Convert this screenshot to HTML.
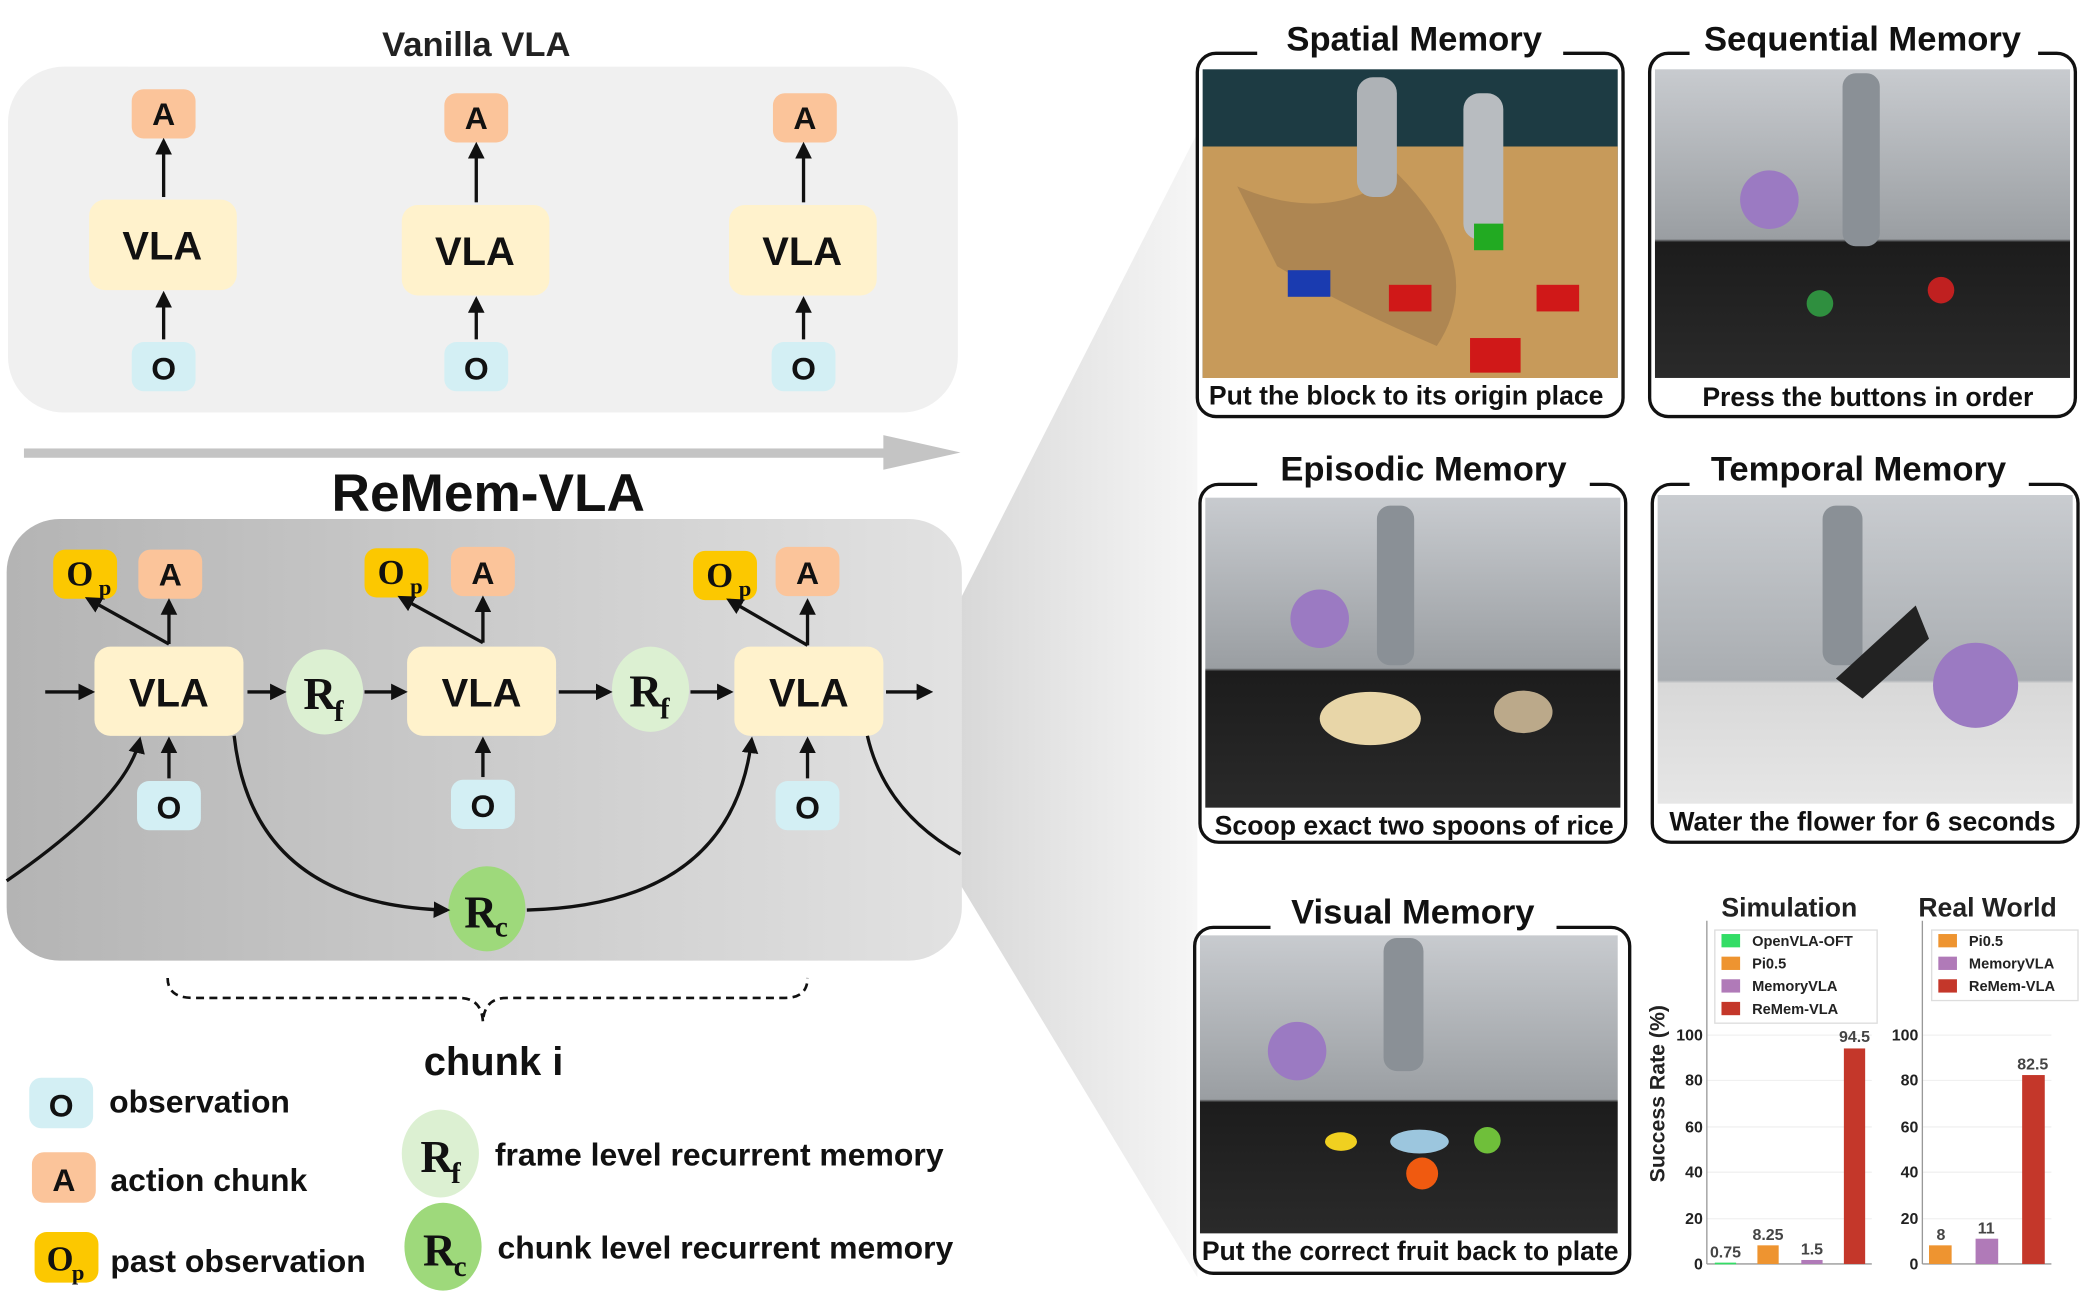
<!DOCTYPE html>
<html><head><meta charset="utf-8"><style>
html,body{margin:0;padding:0;background:#fff;}
svg{display:block;}
text{font-family:"Liberation Sans",sans-serif;}
.b{font-weight:bold;}
text.ser{font-family:"Liberation Serif",serif;font-weight:bold;}
</style></head><body>
<svg width="2086" height="1304" viewBox="0 0 1568 980" xmlns="http://www.w3.org/2000/svg">
<defs>
<marker id="ar" viewBox="0 0 10 10" refX="8" refY="5" markerWidth="5" markerHeight="5" orient="auto-start-reverse"><path d="M0,0L10,5L0,10z" fill="#111"/></marker>
<linearGradient id="pg" x1="0" y1="0" x2="1" y2="0"><stop offset="0" stop-color="#b4b4b4"/><stop offset="1" stop-color="#e2e2e2"/></linearGradient>
<linearGradient id="fg" x1="0" y1="0" x2="1" y2="0"><stop offset="0" stop-color="#d8d8d8"/><stop offset="1" stop-color="#f6f6f6"/></linearGradient>
<linearGradient id="room" x1="0" y1="0" x2="0" y2="1"><stop offset="0" stop-color="#c8cbcf"/><stop offset="0.55" stop-color="#9a9ea2"/><stop offset="0.56" stop-color="#1c1c1c"/><stop offset="1" stop-color="#2a2a2a"/></linearGradient>
<linearGradient id="room2" x1="0" y1="0" x2="0" y2="1"><stop offset="0" stop-color="#c9ccd0"/><stop offset="0.6" stop-color="#a9adb1"/><stop offset="0.61" stop-color="#d8d8d8"/><stop offset="1" stop-color="#e6e6e6"/></linearGradient>
</defs>

<polygon points="722,450 900,100 900,960 722,665" fill="url(#fg)"/>

<text x="358" y="42" font-size="26" class="b" text-anchor="middle" fill="#222">Vanilla VLA</text>
<rect x="6" y="50" width="714" height="260" rx="42" fill="#f0f0f0"/>
<g font-size="30" class="b" text-anchor="middle" fill="#111">
<rect x="67" y="150" width="111" height="68" rx="12" fill="#fff2cc"/><text x="122" y="195">VLA</text>
<rect x="302" y="154" width="111" height="68" rx="12" fill="#fff2cc"/><text x="357" y="199">VLA</text>
<rect x="548" y="154" width="111" height="68" rx="12" fill="#fff2cc"/><text x="603" y="199">VLA</text>
</g>
<g font-size="24" class="b" text-anchor="middle" fill="#111">
<rect x="99" y="67" width="48" height="37" rx="9" fill="#fbc49a"/><text x="123" y="94">A</text>
<rect x="334" y="70" width="48" height="37" rx="9" fill="#fbc49a"/><text x="358" y="97">A</text>
<rect x="581" y="70" width="48" height="37" rx="9" fill="#fbc49a"/><text x="605" y="97">A</text>
<rect x="99" y="257" width="48" height="37" rx="9" fill="#d3eff4"/><text x="123" y="285">O</text>
<rect x="334" y="257" width="48" height="37" rx="9" fill="#d3eff4"/><text x="358" y="285">O</text>
<rect x="580" y="257" width="48" height="37" rx="9" fill="#d3eff4"/><text x="604" y="285">O</text>
</g>
<g stroke="#111" stroke-width="2.5" marker-end="url(#ar)">
<line x1="123" y1="148" x2="123" y2="106"/><line x1="358" y1="152" x2="358" y2="109"/><line x1="604" y1="152" x2="604" y2="109"/>
<line x1="123" y1="255" x2="123" y2="221"/><line x1="358" y1="255" x2="358" y2="225"/><line x1="604" y1="255" x2="604" y2="225"/>
</g>
<rect x="18" y="337" width="650" height="7" fill="#c4c4c4"/>
<polygon points="664,327 722,340 664,353" fill="#c4c4c4"/>

<text x="367" y="384" font-size="40" class="b" text-anchor="middle" fill="#111">ReMem-VLA</text>
<rect x="5" y="390" width="718" height="332" rx="40" fill="url(#pg)"/>
<g font-size="30" class="b" text-anchor="middle" fill="#111">
<rect x="71" y="486" width="112" height="67" rx="12" fill="#fff2cc"/><text x="127" y="531">VLA</text>
<rect x="306" y="486" width="112" height="67" rx="12" fill="#fff2cc"/><text x="362" y="531">VLA</text>
<rect x="552" y="486" width="112" height="67" rx="12" fill="#fff2cc"/><text x="608" y="531">VLA</text>
</g>
<g font-size="24" class="b" text-anchor="middle" fill="#111">
<rect x="40" y="413" width="48" height="37" rx="9" fill="#fcc800"/><text x="60" y="440" class="ser" font-size="26">O</text><text x="79" y="447" class="ser" font-size="17">p</text>
<rect x="104" y="413" width="48" height="37" rx="9" fill="#fbc49a"/><text x="128" y="440">A</text>
<rect x="274" y="412" width="48" height="37" rx="9" fill="#fcc800"/><text x="294" y="439" class="ser" font-size="26">O</text><text x="313" y="446" class="ser" font-size="17">p</text>
<rect x="339" y="411" width="48" height="37" rx="9" fill="#fbc49a"/><text x="363" y="439">A</text>
<rect x="521" y="414" width="48" height="37" rx="9" fill="#fcc800"/><text x="541" y="441" class="ser" font-size="26">O</text><text x="560" y="448" class="ser" font-size="17">p</text>
<rect x="583" y="411" width="48" height="37" rx="9" fill="#fbc49a"/><text x="607" y="439">A</text>
<rect x="103" y="587" width="48" height="37" rx="9" fill="#d3eff4"/><text x="127" y="615">O</text>
<rect x="339" y="586" width="48" height="37" rx="9" fill="#d3eff4"/><text x="363" y="614">O</text>
<rect x="583" y="587" width="48" height="37" rx="9" fill="#d3eff4"/><text x="607" y="615">O</text>
</g>
<ellipse cx="244" cy="520" rx="29" ry="32" fill="#dcf0d2"/>
<ellipse cx="489" cy="518" rx="29" ry="32" fill="#dcf0d2"/>
<ellipse cx="366" cy="683" rx="29" ry="32" fill="#9ed97b"/>
<g fill="#111">
<text class="ser" x="228" y="533" font-size="34">R</text><text class="ser" x="251" y="542" font-size="22">f</text>
<text class="ser" x="473" y="531" font-size="34">R</text><text class="ser" x="496" y="540" font-size="22">f</text>
<text class="ser" x="349" y="697" font-size="34">R</text><text class="ser" x="372" y="704" font-size="22">c</text>
</g>
<g stroke="#111" stroke-width="2.5" fill="none" marker-end="url(#ar)">
<line x1="34" y1="520" x2="69" y2="520"/><line x1="186" y1="520" x2="213" y2="520"/>
<line x1="274" y1="520" x2="304" y2="520"/><line x1="420" y1="520" x2="458" y2="520"/>
<line x1="519" y1="520" x2="549" y2="520"/><line x1="666" y1="520" x2="699" y2="520"/>
<line x1="127" y1="585" x2="127" y2="556"/><line x1="363" y1="584" x2="363" y2="556"/><line x1="607" y1="585" x2="607" y2="556"/>
<line x1="127" y1="484" x2="127" y2="452"/><line x1="127" y1="484" x2="66" y2="450"/>
<line x1="363" y1="483" x2="363" y2="450"/><line x1="363" y1="483" x2="301" y2="449"/>
<line x1="607" y1="485" x2="607" y2="452"/><line x1="607" y1="485" x2="548" y2="451"/>
<path d="M5,662 Q95,600 105,556"/>
<path d="M176,553 Q190,680 336,684"/>
<path d="M396,684 Q550,680 565,556"/>
</g>
<path d="M652,553 Q665,610 722,642" stroke="#111" stroke-width="2.5" fill="none"/>
<path d="M126,735 Q126,750 145,750 L345,750 Q362,750 363,768 Q364,750 381,750 L590,750 Q607,750 607,735" stroke="#111" stroke-width="2" stroke-dasharray="6,4" fill="none"/>
<text x="371" y="808" font-size="30" class="b" text-anchor="middle" fill="#111">chunk i</text>

<g font-size="24" class="b" fill="#111">
<rect x="22" y="810" width="48" height="38" rx="9" fill="#d3eff4"/><text x="46" y="839" text-anchor="middle">O</text>
<text x="82" y="836">observation</text>
<rect x="24" y="866" width="48" height="38" rx="9" fill="#fbc49a"/><text x="48" y="895" text-anchor="middle">A</text>
<text x="83" y="895">action chunk</text>
<rect x="26" y="926" width="48" height="38" rx="9" fill="#fcc800"/><text x="35" y="955" class="ser" font-size="26">O</text><text x="54" y="962" class="ser" font-size="17">p</text>
<text x="83" y="956">past observation</text>
<ellipse cx="331" cy="867" rx="29" ry="33" fill="#dcf0d2"/><text x="316" y="881" class="ser" font-size="34">R</text><text x="339" y="889" class="ser" font-size="22">f</text>
<text x="372" y="876">frame level recurrent memory</text>
<ellipse cx="333" cy="937" rx="29" ry="33" fill="#9ed97b"/><text x="318" y="951" class="ser" font-size="34">R</text><text x="341" y="959" class="ser" font-size="22">c</text>
<text x="374" y="946">chunk level recurrent memory</text>
</g>

<g font-size="26" class="b" fill="#111" text-anchor="middle">
<rect x="900" y="40" width="320" height="273" rx="14" fill="#fff" stroke="#111" stroke-width="2.5"/>
<rect x="945" y="28" width="230" height="24" fill="#fff"/>
<text x="1063" y="38">Spatial Memory</text>
<rect x="904" y="52" width="312" height="232" fill="#1d3b43"/>
<polygon points="904,110 1216,110 1216,284 904,284" fill="#c79a5a"/>
<path d="M930,140 Q1000,170 1050,130 Q1120,200 1080,260 Q1010,230 960,200z" fill="#9c7a4c" opacity="0.6"/>
<rect x="1020" y="58" width="30" height="90" rx="12" fill="#aeb2b6"/><rect x="1100" y="70" width="30" height="110" rx="12" fill="#b8bcc0"/>
<rect x="968" y="203" width="32" height="20" fill="#1a3bb0"/><rect x="1044" y="214" width="32" height="20" fill="#d01818"/><rect x="1155" y="214" width="32" height="20" fill="#d01818"/><rect x="1105" y="254" width="38" height="26" fill="#d01818"/><rect x="1108" y="168" width="22" height="20" fill="#22aa22"/>
<text x="1057" y="304" font-size="20">Put the block to its origin place</text>
<rect x="1240" y="40" width="320" height="273" rx="14" fill="#fff" stroke="#111" stroke-width="2.5"/>
<rect x="1270" y="28" width="262" height="24" fill="#fff"/>
<text x="1400" y="38">Sequential Memory</text>
<rect x="1244" y="52" width="312" height="232" fill="url(#room)"/>
<rect x="1385" y="55" width="28" height="130" rx="10" fill="#8a9096"/>
<circle cx="1330" cy="150" r="22" fill="#9b7ac2"/><circle cx="1368" cy="228" r="10" fill="#2f8f3f"/><circle cx="1459" cy="218" r="10" fill="#c02020"/>
<text x="1404" y="305" font-size="20">Press the buttons in order</text>
<rect x="902" y="364" width="320" height="269" rx="14" fill="#fff" stroke="#111" stroke-width="2.5"/>
<rect x="945" y="352" width="250" height="24" fill="#fff"/>
<text x="1070" y="361">Episodic Memory</text>
<rect x="906" y="374" width="312" height="233" fill="url(#room)"/>
<rect x="1035" y="380" width="28" height="120" rx="10" fill="#8a9096"/>
<circle cx="992" cy="465" r="22" fill="#9b7ac2"/>
<ellipse cx="1030" cy="540" rx="38" ry="20" fill="#e8d6a8"/><ellipse cx="1145" cy="535" rx="22" ry="16" fill="#bba98a"/>
<text x="1063" y="627" font-size="20">Scoop exact two spoons of rice</text>
<rect x="1242" y="364" width="320" height="269" rx="14" fill="#fff" stroke="#111" stroke-width="2.5"/>
<rect x="1270" y="352" width="255" height="24" fill="#fff"/>
<text x="1397" y="361">Temporal Memory</text>
<rect x="1246" y="372" width="312" height="232" fill="url(#room2)"/>
<rect x="1370" y="380" width="30" height="120" rx="10" fill="#8a9096"/>
<path d="M1380,510 L1440,455 L1450,480 L1400,525z" fill="#222"/>
<circle cx="1485" cy="515" r="32" fill="#9b7ac2"/>
<text x="1400" y="624" font-size="20">Water the flower for 6 seconds</text>
<rect x="898" y="697" width="327" height="260" rx="14" fill="#fff" stroke="#111" stroke-width="2.5"/>
<rect x="955" y="684" width="215" height="24" fill="#fff"/>
<text x="1062" y="694">Visual Memory</text>
<rect x="902" y="703" width="314" height="224" fill="url(#room)"/>
<rect x="1040" y="705" width="30" height="100" rx="10" fill="#8a9096"/>
<circle cx="975" cy="790" r="22" fill="#9b7ac2"/>
<ellipse cx="1008" cy="858" rx="12" ry="7" fill="#f0d020"/><ellipse cx="1067" cy="858" rx="22" ry="9" fill="#9cc6de"/><circle cx="1069" cy="882" r="12" fill="#f05a10"/><circle cx="1118" cy="857" r="10" fill="#6fbf3a"/>
<text x="1060" y="947" font-size="20">Put the correct fruit back to plate</text>
</g>

<g class="b" fill="#222">
<text x="1345" y="689" font-size="20" text-anchor="middle">Simulation</text>
<text x="1494" y="689" font-size="20" text-anchor="middle">Real World</text>
<text transform="translate(1251,822) rotate(-90)" font-size="16" text-anchor="middle">Success Rate (%)</text>
<g stroke="#eee" stroke-width="0.8">
<line x1="1283" y1="778" x2="1407" y2="778"/><line x1="1283" y1="812" x2="1407" y2="812"/><line x1="1283" y1="847" x2="1407" y2="847"/><line x1="1283" y1="881" x2="1407" y2="881"/><line x1="1283" y1="916" x2="1407" y2="916"/>
<line x1="1445" y1="778" x2="1542" y2="778"/><line x1="1445" y1="812" x2="1542" y2="812"/><line x1="1445" y1="847" x2="1542" y2="847"/><line x1="1445" y1="881" x2="1542" y2="881"/><line x1="1445" y1="916" x2="1542" y2="916"/>
</g>
<g stroke="#999" stroke-width="1"><line x1="1283" y1="692" x2="1283" y2="950"/><line x1="1283" y1="950" x2="1407" y2="950"/><line x1="1445" y1="692" x2="1445" y2="950"/><line x1="1445" y1="950" x2="1542" y2="950"/></g>
<g font-size="12" text-anchor="end">
<text x="1280" y="782">100</text><text x="1280" y="816">80</text><text x="1280" y="851">60</text><text x="1280" y="885">40</text><text x="1280" y="920">20</text><text x="1280" y="954">0</text>
<text x="1442" y="782">100</text><text x="1442" y="816">80</text><text x="1442" y="851">60</text><text x="1442" y="885">40</text><text x="1442" y="920">20</text><text x="1442" y="954">0</text>
</g>
<rect x="1289" y="949" width="16" height="1.3" fill="#33dd66"/>
<rect x="1321" y="936" width="16" height="14" fill="#ee9430"/>
<rect x="1354" y="947" width="16" height="3" fill="#b07ab8"/>
<rect x="1386" y="788" width="16" height="162" fill="#c4372a"/>
<rect x="1450" y="936" width="17" height="14" fill="#ee9430"/>
<rect x="1485" y="931" width="17" height="19" fill="#b07ab8"/>
<rect x="1520" y="808" width="17" height="142" fill="#c4372a"/>
<g font-size="12" text-anchor="middle" fill="#444">
<text x="1297" y="945">0.75</text><text x="1329" y="932">8.25</text><text x="1362" y="943">1.5</text><text x="1394" y="783">94.5</text>
<text x="1459" y="932">8</text><text x="1493" y="927">11</text><text x="1528" y="804">82.5</text>
</g>
<rect x="1289" y="699" width="122" height="70" fill="#fff" stroke="#ddd"/>
<rect x="1452" y="699" width="110" height="53" fill="#fff" stroke="#ddd"/>
<g font-size="11">
<rect x="1294" y="702" width="14" height="10" fill="#33dd66"/><text x="1317" y="711">OpenVLA-OFT</text>
<rect x="1294" y="719" width="14" height="10" fill="#ee9430"/><text x="1317" y="728">Pi0.5</text>
<rect x="1294" y="736" width="14" height="10" fill="#b07ab8"/><text x="1317" y="745">MemoryVLA</text>
<rect x="1294" y="753" width="14" height="10" fill="#c4372a"/><text x="1317" y="762">ReMem-VLA</text>
<rect x="1457" y="702" width="14" height="10" fill="#ee9430"/><text x="1480" y="711">Pi0.5</text>
<rect x="1457" y="719" width="14" height="10" fill="#b07ab8"/><text x="1480" y="728">MemoryVLA</text>
<rect x="1457" y="736" width="14" height="10" fill="#c4372a"/><text x="1480" y="745">ReMem-VLA</text>
</g>
</g>
</svg>
</body></html>
